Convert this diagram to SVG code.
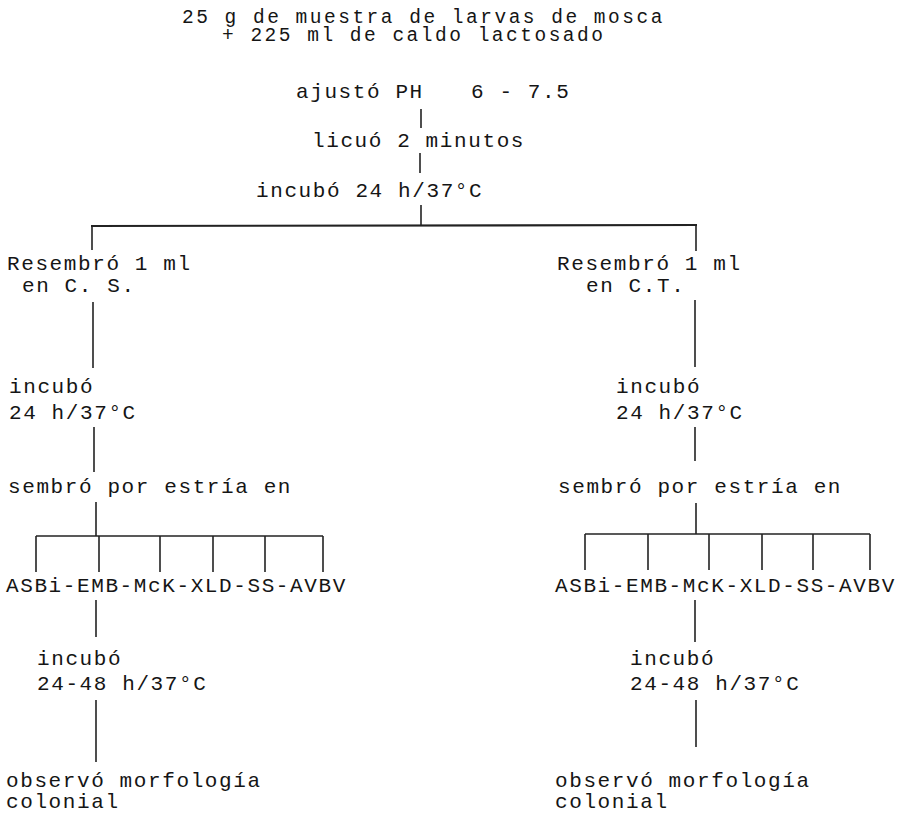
<svg xmlns="http://www.w3.org/2000/svg" width="908" height="816" viewBox="0 0 908 816">
<style>
text{font-family:"Liberation Mono","Courier New",monospace;font-size:21px;letter-spacing:1.6px;fill:#151515;white-space:pre}
.t{font-size:19.5px;letter-spacing:2.5px}
.c line{stroke:#222;stroke-width:1.6;fill:none}
.c .h{stroke-width:2.2}
</style>
<rect width="908" height="816" fill="#fff"/>
<g id="start"><text class="t" x="182" y="23">25 g de muestra de larvas de mosca</text><text class="t" x="222" y="41">+ 225 ml de caldo lactosado</text></g>
<g id="ajusto"><text x="296" y="98">ajustó PH</text><text x="471" y="98">6 - 7.5</text></g>
<g id="licuo"><text x="312" y="147">licuó 2 minutos</text></g>
<g id="incubo0"><text x="256" y="197">incubó 24 h/37°C</text></g>
<g id="resL"><text x="7" y="270">Resembró 1 ml</text><text x="22" y="292">en C. S.</text></g>
<g id="resR"><text x="557" y="270">Resembró 1 ml</text><text x="586" y="292">en C.T.</text></g>
<g id="incL"><text x="9" y="393">incubó</text><text x="9" y="419">24 h/37°C</text></g>
<g id="incR"><text x="616" y="393">incubó</text><text x="616" y="419">24 h/37°C</text></g>
<g id="semL"><text x="8" y="493">sembró por estría en</text></g>
<g id="semR"><text x="558" y="493">sembró por estría en</text></g>
<g id="medL"><text x="6" y="592">ASBi-EMB-McK-XLD-SS-AVBV</text></g>
<g id="medR"><text x="555" y="592">ASBi-EMB-McK-XLD-SS-AVBV</text></g>
<g id="inc2L"><text x="37" y="665">incubó</text><text x="37" y="690">24-48 h/37°C</text></g>
<g id="inc2R"><text x="630" y="665">incubó</text><text x="630" y="690">24-48 h/37°C</text></g>
<g id="obsL"><text x="6" y="787">observó morfología</text><text x="6" y="808">colonial</text></g>
<g id="obsR"><text x="555" y="787">observó morfología</text><text x="555" y="808">colonial</text></g>
<g id="connectors" class="c">
<line x1="421" y1="109" x2="421" y2="128"/>
<line x1="420" y1="153" x2="420" y2="173"/>
<line x1="421" y1="205" x2="421" y2="226"/>
<line class="h" x1="91" y1="226" x2="697" y2="225"/>
<line x1="92" y1="226" x2="92" y2="250"/>
<line x1="696" y1="225" x2="696" y2="251"/>
<line x1="93" y1="302" x2="93" y2="368"/>
<line x1="94" y1="427" x2="94" y2="472"/>
<line x1="96" y1="502" x2="96" y2="536"/>
<line x1="36" y1="536" x2="323" y2="536"/>
<line x1="36" y1="536" x2="36" y2="572"/>
<line x1="99" y1="536" x2="99" y2="572"/>
<line x1="160" y1="536" x2="160" y2="572"/>
<line x1="213" y1="536" x2="213" y2="572"/>
<line x1="265" y1="536" x2="265" y2="572"/>
<line x1="323" y1="536" x2="323" y2="572"/>
<line x1="96" y1="600" x2="96" y2="637"/>
<line x1="96" y1="700" x2="96" y2="762"/>
<line x1="695" y1="300" x2="695" y2="367"/>
<line x1="695" y1="427" x2="695" y2="461"/>
<line x1="696" y1="503" x2="696" y2="534"/>
<line x1="585" y1="534" x2="870" y2="534"/>
<line x1="585" y1="534" x2="585" y2="570"/>
<line x1="648" y1="534" x2="648" y2="570"/>
<line x1="709" y1="534" x2="709" y2="570"/>
<line x1="762" y1="534" x2="762" y2="570"/>
<line x1="813" y1="534" x2="813" y2="570"/>
<line x1="870" y1="534" x2="870" y2="570"/>
<line x1="695" y1="600" x2="695" y2="642"/>
<line x1="696" y1="700" x2="696" y2="747"/>
</g>
</svg>
